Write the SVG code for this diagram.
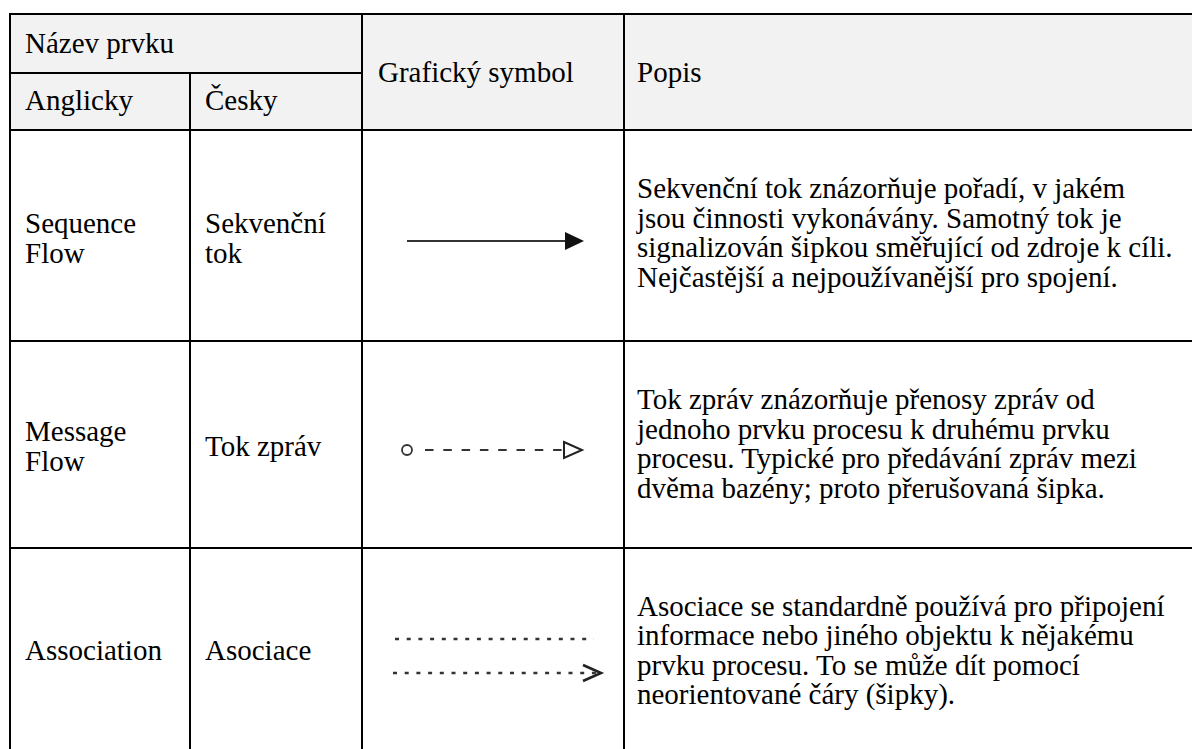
<svg xmlns="http://www.w3.org/2000/svg" width="1192" height="749" viewBox="0 0 1192 749">
<style>
text{font-family:"Liberation Serif","Times New Roman",serif;font-size:29px;fill:#000}
.grid{stroke:#000;stroke-width:2;fill:none}
.sym{stroke:#333;stroke-width:2;fill:none}
.dot{stroke:#333;stroke-width:2.4;stroke-dasharray:4 7.7;fill:none}
</style>
<defs>
<marker id="filled" markerWidth="20" markerHeight="18" refX="0" refY="9" orient="auto" markerUnits="userSpaceOnUse">
<path d="M0,0 L19,9 L0,18 Z" fill="#111"/>
</marker>
<marker id="open" markerWidth="22" markerHeight="20" refX="1" refY="10" orient="auto" markerUnits="userSpaceOnUse">
<path d="M1,2 L19,10 L1,18 Z" fill="#fff" stroke="#222" stroke-width="2"/>
</marker>
<marker id="vee" markerWidth="24" markerHeight="22" refX="20" refY="11" orient="auto" markerUnits="userSpaceOnUse">
<path d="M2,3 L20,11 L2,19" fill="none" stroke="#222" stroke-width="2.6"/>
</marker>
</defs>
<rect x="10" y="14" width="1182" height="116" fill="#f2f2f2"/>
<g id="grid" class="grid">
<line x1="10" y1="14" x2="1192" y2="14"/>
<line x1="10" y1="73" x2="362" y2="73"/>
<line x1="10" y1="130" x2="1192" y2="130"/>
<line x1="10" y1="341" x2="1192" y2="341"/>
<line x1="10" y1="548" x2="1192" y2="548"/>
<line x1="10" y1="13" x2="10" y2="749"/>
<line x1="190" y1="73" x2="190" y2="749"/>
<line x1="362" y1="13" x2="362" y2="749"/>
<line x1="624" y1="13" x2="624" y2="749"/>
</g>
<g id="header">
<text x="25" y="53">Název prvku</text>
<text x="25" y="110">Anglicky</text>
<text x="205" y="110">Česky</text>
<text x="378" y="82">Grafický symbol</text>
<text x="637" y="82">Popis</text>
</g>
<g id="row-sequence">
<text x="25" y="233">Sequence</text>
<text x="25" y="262.5">Flow</text>
<text x="205" y="233">Sekvenční</text>
<text x="205" y="262.5">tok</text>
<text x="637" y="198">Sekvenční tok znázorňuje pořadí, v jakém</text>
<text x="637" y="227.5">jsou činnosti vykonávány. Samotný tok je</text>
<text x="637" y="257">signalizován šipkou směřující od zdroje k cíli.</text>
<text x="637" y="286.5">Nejčastější a nejpoužívanější pro spojení.</text>
</g>
<g id="row-message">
<text x="25" y="441">Message</text>
<text x="25" y="470.5">Flow</text>
<text x="205" y="456">Tok zpráv</text>
<text x="637" y="409">Tok zpráv znázorňuje přenosy zpráv od</text>
<text x="637" y="438.5">jednoho prvku procesu k druhému prvku</text>
<text x="637" y="468">procesu. Typické pro předávání zpráv mezi</text>
<text x="637" y="497.5">dvěma bazény; proto přerušovaná šipka.</text>
</g>
<g id="row-association">
<text x="25" y="660">Association</text>
<text x="205" y="660">Asociace</text>
<text x="637" y="615.5">Asociace se standardně používá pro připojení</text>
<text x="637" y="645">informace nebo jiného objektu k nějakému</text>
<text x="637" y="674.5">prvku procesu. To se může dít pomocí</text>
<text x="637" y="704">neorientované čáry (šipky).</text>
</g>
<g id="connectors">
<line class="sym" x1="407" y1="241" x2="565" y2="241" marker-end="url(#filled)"/>
<circle cx="407" cy="450" r="5" fill="none" stroke="#333" stroke-width="1.8"/>
<line class="sym" x1="425" y1="450" x2="564" y2="450" stroke-dasharray="8.5 9.8" marker-end="url(#open)"/>
<line class="dot" x1="395" y1="639" x2="594" y2="639"/>
<line class="dot" x1="393" y1="673" x2="601" y2="673" marker-end="url(#vee)"/>
</g>
</svg>
